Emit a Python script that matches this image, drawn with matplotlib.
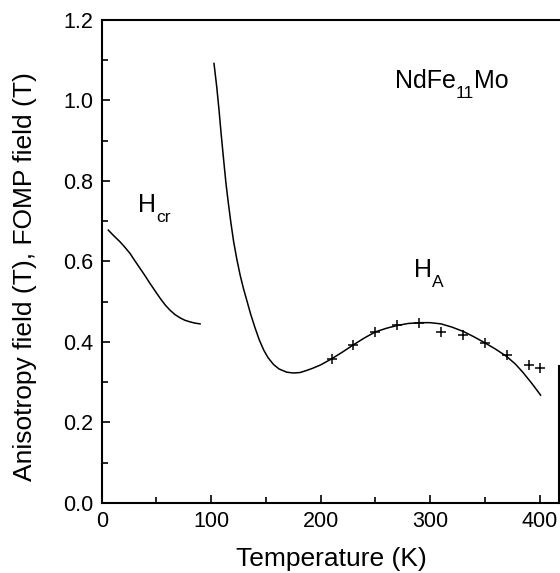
import matplotlib
matplotlib.use("Agg")
import matplotlib.pyplot as plt
from matplotlib.ticker import MultipleLocator

plt.rcParams['font.family'] = ['Liberation Sans', 'DejaVu Sans']

# H_cr (FOMP field) curve
hcr_T = [6.0, 11.0, 16.7, 21.0, 25.9, 30.0, 35.0, 40.0, 44.0, 49.0, 53.3,
         58.0, 62.4, 67.0, 71.6, 76.0, 80.7, 85.0, 89.9]
hcr_H = [0.678, 0.664, 0.649, 0.636, 0.620, 0.603, 0.583, 0.563, 0.546, 0.526,
         0.509, 0.492, 0.479, 0.468, 0.460, 0.454, 0.450, 0.447, 0.445]

# H_A (anisotropy field) curve
ha_T = [102.6, 105.1, 107.2, 109.3, 111.5, 113.5, 115.7, 118.0, 120.5, 123.5,
        126.5, 129.5, 132.5, 136.0, 140.0, 144.0, 148.0, 152.0, 157.0, 162.0,
        169.0, 175.0, 181.0, 187.0, 193.0, 200.0, 210.0, 220.0, 230.0, 240.0,
        250.0, 260.0, 270.0, 280.0, 291.0, 300.0, 310.0, 320.0, 330.5, 340.0,
        350.0, 360.0, 370.0, 378.0, 385.0, 393.0, 401.0]
ha_H = [1.092, 1.034, 0.976, 0.912, 0.850, 0.795, 0.745, 0.697, 0.650, 0.605,
        0.566, 0.533, 0.504, 0.470, 0.436, 0.405, 0.380, 0.361, 0.344, 0.333,
        0.325, 0.323, 0.324, 0.329, 0.335, 0.343, 0.358, 0.375, 0.393, 0.410,
        0.425, 0.434, 0.441, 0.446, 0.448, 0.448, 0.445, 0.437, 0.426, 0.413,
        0.398, 0.382, 0.364, 0.345, 0.324, 0.297, 0.268]

# measured points
pts_T = [210, 230, 250, 270, 290, 310, 330, 350, 370, 390, 400]
pts_H = [0.358, 0.393, 0.426, 0.441, 0.448, 0.426, 0.417, 0.397, 0.368, 0.343, 0.335]

x_ticks = [0, 100, 200, 300, 400]
y_ticks = [0.0, 0.2, 0.4, 0.6, 0.8, 1.0, 1.2]

fig = plt.figure(figsize=(5.6, 5.73), dpi=100)
ax = fig.add_axes([0.1816, 0.1222, 0.8170, 0.8429])

ax.plot(hcr_T, hcr_H, color='black', lw=1.1)
ax.plot(ha_T, ha_H, color='black', lw=1.1)
ax.plot(pts_T, pts_H, linestyle='none', marker='+', color='black', ms=7, mew=1.1)

ax.set_xlim(0, 418)
ax.set_ylim(0, 1.2)
ax.set_xticks(x_ticks)
ax.set_yticks(y_ticks)
ax.set_xticklabels([str(v) for v in x_ticks])
ax.set_yticklabels([f"{v:.1f}" for v in y_ticks])
ax.xaxis.set_minor_locator(MultipleLocator(50))
ax.yaxis.set_minor_locator(MultipleLocator(0.1))
ax.tick_params(which='both', direction='in', labelsize=15.5, width=1.2,
               top=False, right=False)
ax.tick_params(which='major', length=6, pad=6)
ax.tick_params(which='minor', length=4)
for s in ax.spines.values():
    s.set_linewidth(1.5)
ax.spines['right'].set_bounds(0, 0.34)

fig.text(331 / 560, 1 - 566 / 573, 'Temperature (K)', fontsize=19,
         ha='center', va='baseline')
fig.text(25 / 560, 1 - 277 / 573, 'Anisotropy field (T), FOMP field (T)',
         fontsize=19, ha='center', va='center', rotation=90)

fig.canvas.draw()
renderer = fig.canvas.get_renderer()
W, H = fig.bbox.width, fig.bbox.height


def rich_text(x, y, parts, main_size=18, sub_size=12.5, sub_drop=10):
    """Draw text pieces left to right; parts = [(str, is_sub), ...]."""
    px, py = ax.transData.transform((x, y))
    for s, is_sub in parts:
        yy = py - sub_drop if is_sub else py
        t = fig.text(px / W, yy / H, s, fontsize=sub_size if is_sub else main_size,
                     ha='left', va='baseline')
        bb = t.get_window_extent(renderer)
        px = bb.x1


rich_text(268, 1.031, [('NdFe', False), ('11', True), ('Mo', False)])
rich_text(33, 0.723, [('H', False), ('cr', True)])
rich_text(285, 0.562, [('H', False), ('A', True)])

fig.savefig('out.png', dpi=100)
